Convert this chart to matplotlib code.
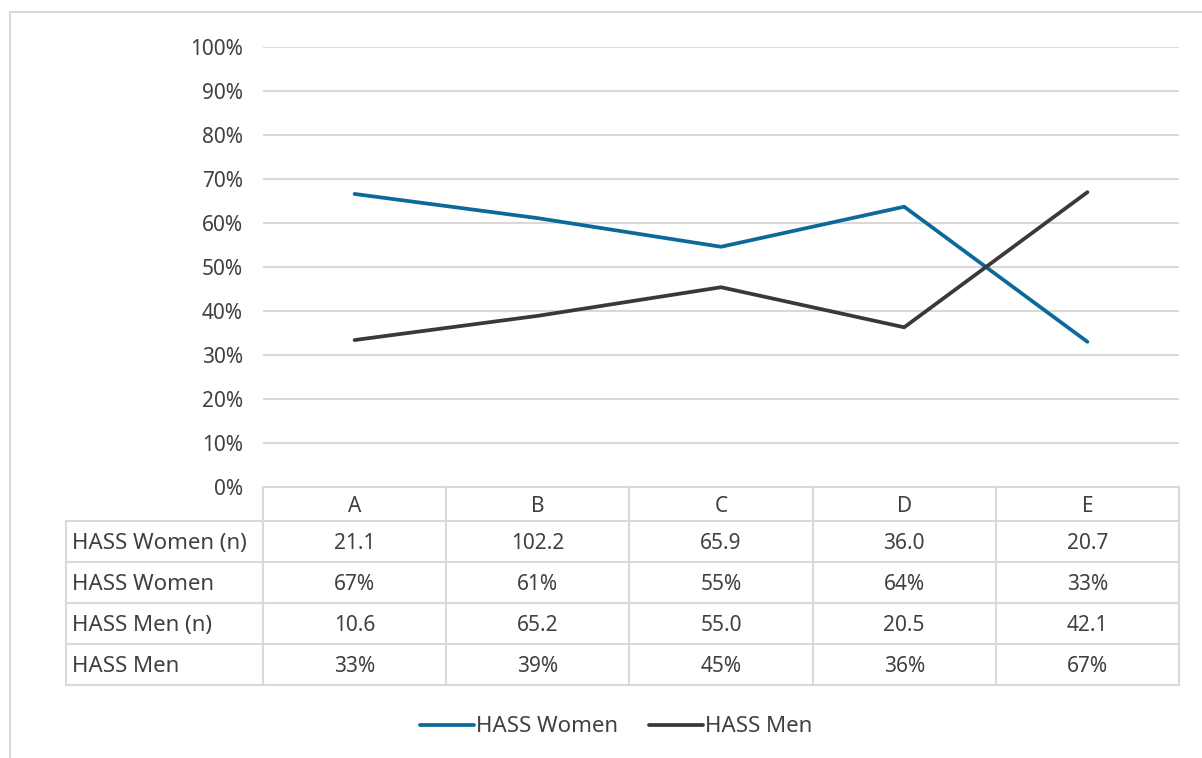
import matplotlib
matplotlib.use("Agg")
import matplotlib.pyplot as plt
from matplotlib.patches import Rectangle
from matplotlib.lines import Line2D
from matplotlib.transforms import blended_transform_factory, offset_copy

plt.rcParams['font.family'] = ['Noto Sans', 'DejaVu Sans']

# Data
categories = ['A', 'B', 'C', 'D', 'E']
women_n = [21.1, 102.2, 65.9, 36.0, 20.7]
men_n = [10.6, 65.2, 55.0, 20.5, 42.1]
women_share = [0.666, 0.611, 0.546, 0.637, 0.330]
men_share = [0.334, 0.389, 0.454, 0.363, 0.670]
y_ticks = [0.0, 0.1, 0.2, 0.3, 0.4, 0.5, 0.6, 0.7, 0.8, 0.9, 1.0]

BLUE = '#0B6A9A'
DARK = '#3A3838'
GRID = '#D9D9D9'
TEXT = '#404040'
FS_NUM = 15
FS_LAB = 16

W, H = 1202, 758
fig = plt.figure(figsize=(W / 100, H / 100), dpi=100)

# outer chart border (left and top edges visible)
fig.patches.append(Rectangle((10 / W, -0.05), 1.1, 1 - 12 / H + 0.05,
                             transform=fig.transFigure, fill=False,
                             edgecolor=GRID, linewidth=1.5))

left, right, top, bottom = 263, 1179, 47, 487
ax = fig.add_axes([left / W, 1 - bottom / H, (right - left) / W, (bottom - top) / H])
x = list(range(len(categories)))
ax.plot(x, women_share, color=BLUE, lw=2.7, solid_capstyle='round', zorder=3)
ax.plot(x, men_share, color=DARK, lw=2.7, solid_capstyle='round', zorder=3)
ax.set_xlim(-0.5, len(categories) - 0.5)
ax.set_ylim(0, 1)
for s in ax.spines.values():
    s.set_visible(False)
ax.set_xticks([])
ax.set_yticks(y_ticks)
ax.set_yticklabels([f"{int(round(t * 100))}%" for t in y_ticks], fontsize=FS_NUM, color=TEXT)
ax.tick_params(axis='y', length=0, pad=14.5)
for t in y_ticks[1:]:
    ax.axhline(t, color=GRID, lw=1.5, zorder=1)

# data table below the plot
row_h = 41 / (bottom - top)
head_h = 34 / (bottom - top)
label_left = (66 - left) / (right - left)
rows = [
    ('HASS Women (n)', [f"{v:.1f}" for v in women_n]),
    ('HASS Women', [f"{v:.0%}" for v in women_share]),
    ('HASS Men (n)', [f"{v:.1f}" for v in men_n]),
    ('HASS Men', [f"{v:.0%}" for v in men_share]),
]
tr = blended_transform_factory(ax.transData, ax.transAxes)
tr_txt = offset_copy(tr, fig=fig, y=-2, units='dots')
ta_txt = offset_copy(ax.transAxes, fig=fig, x=6, y=-2, units='dots')
lkw = dict(color=GRID, lw=1.5, clip_on=False, zorder=1)
table_bottom = -head_h - row_h * len(rows)
# horizontal lines
ax.plot([-0.5, 4.5], [0, 0], transform=tr, **lkw)
for i in range(len(rows) + 1):
    yy = -head_h - row_h * i
    ax.plot([label_left, 1], [yy, yy], transform=ax.transAxes, **lkw)
# vertical lines
for xv in [k - 0.5 for k in range(len(categories) + 1)]:
    ax.plot([xv, xv], [0, table_bottom], transform=tr, **lkw)
ax.plot([label_left, label_left], [-head_h, table_bottom], transform=ax.transAxes, **lkw)

for k, c in enumerate(categories):
    ax.text(k, -head_h / 2, c, transform=tr_txt, ha='center', va='center',
            fontsize=FS_NUM, color=TEXT)
for i, (lab, vals) in enumerate(rows):
    yc = -head_h - row_h * (i + 0.5)
    ax.text(label_left, yc, lab, transform=ta_txt,
            ha='left', va='center', fontsize=FS_LAB, color=TEXT)
    for k, v in enumerate(vals):
        ax.text(k, yc, v, transform=tr_txt, ha='center', va='center',
                fontsize=FS_NUM, color=TEXT)

handles = [Line2D([], [], color=BLUE, lw=2.7, solid_capstyle='round'),
           Line2D([], [], color=DARK, lw=2.7, solid_capstyle='round')]
fig.legend(handles, ['HASS Women', 'HASS Men'], loc='center',
           bbox_to_anchor=(616 / W, 1 - 727 / H), ncol=2, frameon=False,
           fontsize=FS_LAB, labelcolor=TEXT, handlelength=54 / (FS_LAB * 1.389),
           handletextpad=0.1, columnspacing=1.4)

fig.savefig('out.png', dpi=100)
